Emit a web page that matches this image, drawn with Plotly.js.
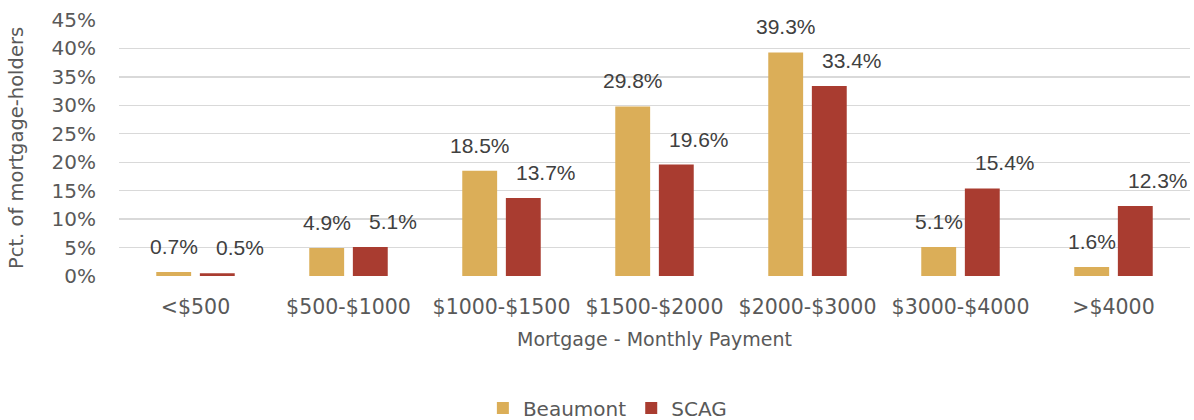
<!DOCTYPE html>
<html><head><meta charset="utf-8">
<script src="https://cdn.plot.ly/plotly-3.0.1.min.js"></script>
<style>html,body{margin:0;padding:0;background:#fff}#chart{width:1194px;height:420px}</style>
</head><body><div id="chart"></div>
<script>
const categories = ['<$500','$500-$1000','$1000-$1500','$1500-$2000','$2000-$3000','$3000-$4000','>$4000'];
const beaumont = [0.7, 4.9, 18.5, 29.8, 39.3, 5.1, 1.6];
const scag = [0.5, 5.1, 13.7, 19.6, 33.4, 15.4, 12.3];
const yTicks = [0,5,10,15,20,25,30,35,40,45];
const yTickText = yTicks.map(v => v + '%');

const FONT = 'DejaVu Sans, sans-serif';
const LFONT = 'Liberation Sans, Arial, sans-serif';
const cBeau = '#DBAE58', cScag = '#A93C30';

const traces = [
  {type:'bar', name:'Beaumont', x:categories, y:beaumont, marker:{color:cBeau}, hoverinfo:'skip'},
  {type:'bar', name:'SCAG', x:categories, y:scag, marker:{color:cScag}, hoverinfo:'skip'}
];

const annotations = [];
[[beaumont,-22],[scag,44]].forEach(([arr,dx]) => {
  arr.forEach((v,i) => annotations.push({
    x: categories[i], y: v, xref:'x', yref:'y', text: v.toFixed(1)+'%',
    showarrow:false, xshift:dx, yshift:12, yanchor:'bottom',
    font:{family:LFONT, size:21, color:'#404040'}
  }));
});

const layout = {
  width:1194, height:420,
  margin:{l:119, r:4, t:20, b:144, autoexpand:false},
  paper_bgcolor:'#fff', plot_bgcolor:'#fff',
  barmode:'group', bargap:0.43, bargroupgap:0.2,
  font:{family:FONT, color:'#595959'},
  xaxis:{
    type:'category', tickfont:{family:FONT, size:20.5, color:'#595959'}, ticks:'', showgrid:false,
    zeroline:false, showline:false, ticklabelstandoff:16, automargin:false,
    title:{text:'Mortgage - Monthly Payment', font:{family:FONT, size:19, color:'#595959'}, standoff:15}
  },
  yaxis:{
    range:[0,45], tickvals:yTicks, ticktext:yTickText, tickfont:{family:FONT, size:20, color:'#595959'},
    showgrid:true, gridcolor:'#d9d9d9', gridwidth:1.4, zeroline:false, showline:false,
    ticks:'', ticklabelstandoff:22, automargin:false,
    title:{text:'Pct. of mortgage-holders', font:{family:FONT, size:19.5, color:'#595959'}, standoff:22}
  },
  showlegend:true,
  legend:{orientation:'h', x:0.456, xanchor:'center', y:-0.516, yanchor:'middle',
    font:{family:FONT, size:20, color:'#595959'}, traceorder:'normal'},
  annotations: annotations
};
Plotly.newPlot('chart', traces, layout, {staticPlot:true});
</script></body></html>
